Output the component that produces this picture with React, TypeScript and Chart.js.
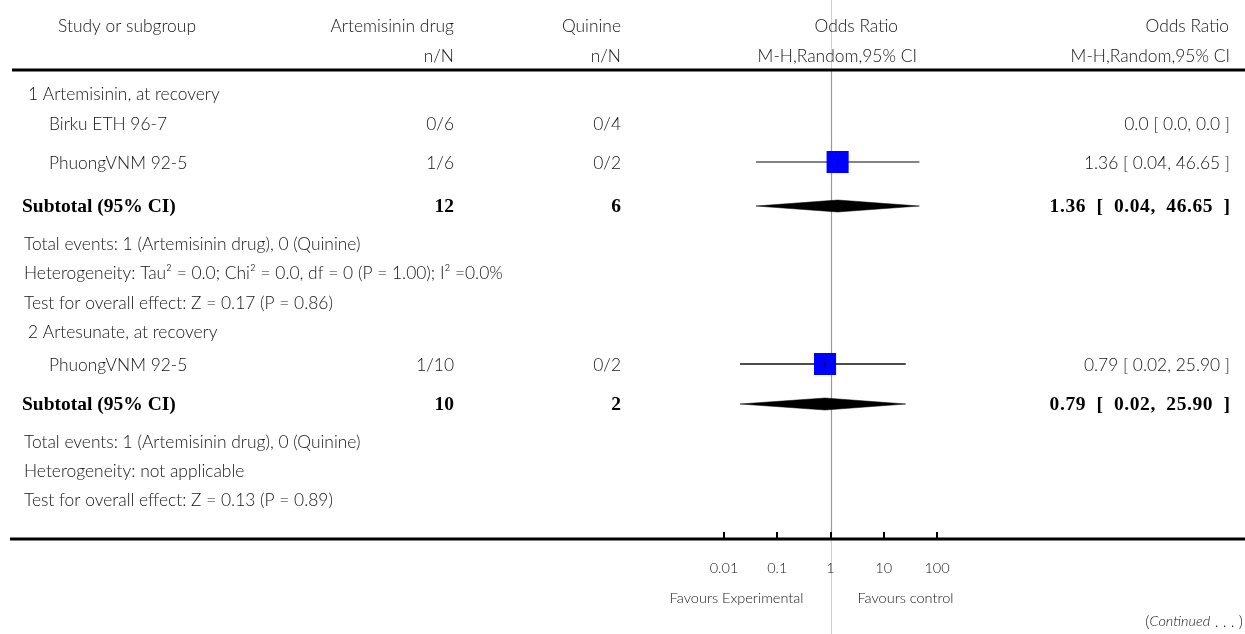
import React, { useEffect, useRef } from "react";
import { Chart, registerables } from "chart.js";

Chart.register(...registerables);

// ---------------- data ----------------
const groupNames = ["1 Artemisinin, at recovery", "2 Artesunate, at recovery"];
const studyNames = ["Birku ETH 96-7", "PhuongVNM 92-5", "PhuongVNM 92-5"];
const studyGroup = [0, 0, 1];
const expEvents = [0, 1, 1];
const expTotals = [6, 6, 10];
const ctrlEvents = [0, 0, 0];
const ctrlTotals = [4, 2, 2];
const studyOR: (number | null)[] = [null, 1.36, 0.79];
const studyLow: (number | null)[] = [null, 0.04, 0.02];
const studyHigh: (number | null)[] = [null, 46.65, 25.9];

const subtotalExp = [12, 10];
const subtotalCtrl = [6, 2];
const subtotalOR = [1.36, 0.79];
const subtotalLow = [0.04, 0.02];
const subtotalHigh = [46.65, 25.9];
const totalEventsText = [
  "Total events: 1 (Artemisinin drug), 0 (Quinine)",
  "Total events: 1 (Artemisinin drug), 0 (Quinine)",
];
const heterogeneityText = [
  "Heterogeneity: Tau\u00B2 = 0.0; Chi\u00B2 = 0.0, df = 0 (P = 1.00); I\u00B2 =0.0%",
  "Heterogeneity: not applicable",
];
const overallEffectText = [
  "Test for overall effect: Z = 0.17 (P = 0.86)",
  "Test for overall effect: Z = 0.13 (P = 0.89)",
];

const tickValues = [0.01, 0.1, 1, 10, 100];
const tickLabels = ["0.01", "0.1", "1", "10", "100"];
const favoursLabels = ["Favours Experimental", "Favours control"];

// ---------------- layout (pixels) ----------------
const W = 1245;
const H = 634;
const HEADER_Y1 = 25;
const HEADER_Y2 = 55;
const HEADER_LINE_Y = 70;
const AXIS_Y = 539;
const GROUP_ROW_Y = [93, 331];
const STUDY_ROW_Y = [123, 162, 364];
const SUBTOTAL_ROW_Y = [207, 405];
const TOTAL_EV_Y = [243, 441];
const HET_Y = [272, 470];
const TEST_Y = [302, 499];
const TICK_LABEL_Y = 567;
const FAVOURS_Y = 597;
const CONT_Y = 620;
const REG_DY = 1.5;

const COL_GROUP_X = 28;
const COL_STUDY_X = 49;
const COL_FOOT_X = 24;
const COL_EXP_R = 454;
const COL_CTRL_R = 621;
const COL_RES_R = 1230;

const SANS = '"Lato", "Open Sans", sans-serif';
const SERIF = '"Liberation Serif", "DejaVu Serif", serif';
const REG = `300 17.4px ${SANS}`;
const SMALL = `300 14.5px ${SANS}`;
const BOLD = `bold 19.5px ${SERIF}`;
const TEXT = "#151515";

const fmtCI = (o: number, l: number, h: number, sp = " ") =>
  `${o.toFixed(2)}${sp}[${sp}${l.toFixed(2)},${sp}${h.toFixed(2)}${sp}]`;

export default function App() {
  const ref = useRef<HTMLCanvasElement | null>(null);

  useEffect(() => {
    if (!ref.current) return;

    const datasets: any[] = [];

    // CI lines
    studyOR.forEach((o, i) => {
      if (o == null) return;
      datasets.push({
        type: "line",
        data: [
          { x: studyLow[i], y: STUDY_ROW_Y[i] },
          { x: studyHigh[i], y: STUDY_ROW_Y[i] },
        ],
        borderColor: i === 1 ? "#5a5a5a" : "#111111",
        borderWidth: 1.6,
        pointRadius: 0,
        fill: false,
        order: 3,
      });
    });

    const pts = studyOR
      .map((o, i) => (o == null ? null : { x: o, y: STUDY_ROW_Y[i] }))
      .filter((d) => d != null);

    // squares
    datasets.push({
      type: "scatter",
      data: pts,
      pointStyle: "rect",
      pointRadius: 15.6,
      backgroundColor: "#0000ff",
      borderWidth: 0,
      order: 2,
    });

    // small centre mark
    datasets.push({
      type: "scatter",
      data: pts,
      pointStyle: "line",
      rotation: 90,
      pointRadius: 3,
      borderColor: "#000000",
      borderWidth: 1,
      order: 1,
    });

    // diamonds
    subtotalOR.forEach((o, g) => {
      const y = SUBTOTAL_ROW_Y[g] - 1;
      const hh = 6;
      datasets.push({
        type: "line",
        data: [
          { x: subtotalLow[g], y },
          { x: o, y: y - hh },
          { x: subtotalHigh[g], y },
          { x: o, y: y + hh },
          { x: subtotalLow[g], y },
        ],
        borderColor: "#000000",
        borderWidth: 0.5,
        backgroundColor: "#000000",
        pointRadius: 0,
        tension: 0,
        fill: "shape",
        order: 1,
      });
    });

    const gridPlugin = {
      id: "forestGrid",
      beforeDatasetsDraw(chart: any) {
        const ctx = chart.ctx;
        const xs = chart.scales.x;
        const x1 = Math.round(xs.getPixelForValue(1)) + 0.5;
        ctx.save();
        ctx.strokeStyle = "#d0d0d0";
        ctx.lineWidth = 1;
        ctx.beginPath();
        ctx.moveTo(x1, 0);
        ctx.lineTo(x1, H);
        ctx.stroke();
        ctx.strokeStyle = "#999999";
        ctx.lineWidth = 1.2;
        ctx.beginPath();
        ctx.moveTo(x1, HEADER_LINE_Y);
        ctx.lineTo(x1, AXIS_Y);
        ctx.stroke();
        ctx.fillStyle = "#000";
        ctx.fillRect(12, HEADER_LINE_Y - 1.5, W - 12, 3);
        ctx.fillRect(10, AXIS_Y - 1.5, W - 10, 3);
        tickValues.forEach((v) => {
          const px = xs.getPixelForValue(v);
          ctx.fillRect(Math.round(px) - 1, AXIS_Y - 7, 2, 6);
        });
        ctx.restore();
      },
      afterDraw(chart: any) {
        const ctx = chart.ctx;
        const xs = chart.scales.x;
        ctx.save();
        ctx.textBaseline = "middle";
        const t = (
          s: string,
          x: number,
          y: number,
          align: CanvasTextAlign,
          font = REG,
          color = TEXT,
          spacing = "0px"
        ) => {
          ctx.font = font;
          ctx.fillStyle = color;
          ctx.textAlign = align;
          (ctx as any).letterSpacing = spacing;
          ctx.fillText(s, x, y + (font === BOLD ? 0 : REG_DY));
          (ctx as any).letterSpacing = "0px";
        };
        // header
        t("Study or subgroup", 127, HEADER_Y1, "center");
        t("Artemisinin drug", COL_EXP_R, HEADER_Y1, "right");
        t("n/N", COL_EXP_R, HEADER_Y2, "right");
        t("Quinine", COL_CTRL_R, HEADER_Y1, "right");
        t("n/N", COL_CTRL_R, HEADER_Y2, "right");
        t("Odds Ratio", 898, HEADER_Y1, "right");
        t("M-H,Random,95% CI", 917, HEADER_Y2, "right");
        t("Odds Ratio", 1229, HEADER_Y1, "right");
        t("M-H,Random,95% CI", COL_RES_R, HEADER_Y2, "right");

        groupNames.forEach((name, g) => {
          t(name, COL_GROUP_X, GROUP_ROW_Y[g], "left");
          studyNames.forEach((s, i) => {
            if (studyGroup[i] !== g) return;
            const y = STUDY_ROW_Y[i];
            t(s, COL_STUDY_X, y, "left");
            t(`${expEvents[i]}/${expTotals[i]}`, COL_EXP_R, y, "right");
            t(`${ctrlEvents[i]}/${ctrlTotals[i]}`, COL_CTRL_R, y, "right");
            const o = studyOR[i];
            const res =
              o == null ? "0.0 [ 0.0, 0.0 ]" : fmtCI(o, studyLow[i] as number, studyHigh[i] as number);
            t(res, COL_RES_R, y, "right");
          });
          const sy = SUBTOTAL_ROW_Y[g];
          t("Subtotal (95% CI)", 22, sy, "left", BOLD, "#000");
          t(String(subtotalExp[g]), COL_EXP_R, sy, "right", BOLD, "#000");
          t(String(subtotalCtrl[g]), COL_CTRL_R, sy, "right", BOLD, "#000");
          t(
            fmtCI(subtotalOR[g], subtotalLow[g], subtotalHigh[g], "\u2002"),
            COL_RES_R + 0.6,
            sy,
            "right",
            BOLD,
            "#000",
            "0.6px"
          );
          t(totalEventsText[g], COL_FOOT_X, TOTAL_EV_Y[g], "left");
          t(heterogeneityText[g], COL_FOOT_X, HET_Y[g], "left");
          t(overallEffectText[g], COL_FOOT_X, TEST_Y[g], "left");
        });

        tickValues.forEach((v, i) => {
          t(tickLabels[i], xs.getPixelForValue(v), TICK_LABEL_Y, "center", SMALL);
        });
        const c = xs.getPixelForValue(1);
        t(favoursLabels[0], c - 27, FAVOURS_Y, "right", SMALL);
        t(favoursLabels[1], c + 27, FAVOURS_Y, "left", SMALL);

        const CF = `300 16px ${SANS}`;
        const CIt = `italic 300 14.5px ${SANS}`;
        let x = 1243;
        const parts: [string, string][] = [
          [" . . . )", CF],
          ["Continued", CIt],
          ["(", CF],
        ];
        parts.forEach(([s, f]) => {
          ctx.font = f;
          const w = ctx.measureText(s).width;
          t(s, x, CONT_Y, "right", f);
          x -= w;
        });
        ctx.restore();
      },
    };

    const chart = new Chart(ref.current, {
      type: "scatter",
      data: { datasets },
      options: {
        animation: false,
        responsive: false,
        devicePixelRatio: 1,
        layout: { autoPadding: false, padding: { left: 724, right: W - 937, top: 0, bottom: 0 } },
        plugins: { legend: { display: false }, tooltip: { enabled: false } },
        scales: {
          x: { type: "logarithmic", min: 0.01, max: 100, display: false },
          y: { type: "linear", min: 0, max: H, reverse: true, display: false },
        },
      },
      plugins: [gridPlugin],
    } as any);

    return () => chart.destroy();
  }, []);

  return (
    <div style={{ position: "absolute", left: 0, top: 0, width: W, height: H, background: "#fff" }}>
      <canvas ref={ref} width={W} height={H} style={{ width: W, height: H }} />
    </div>
  );
}
